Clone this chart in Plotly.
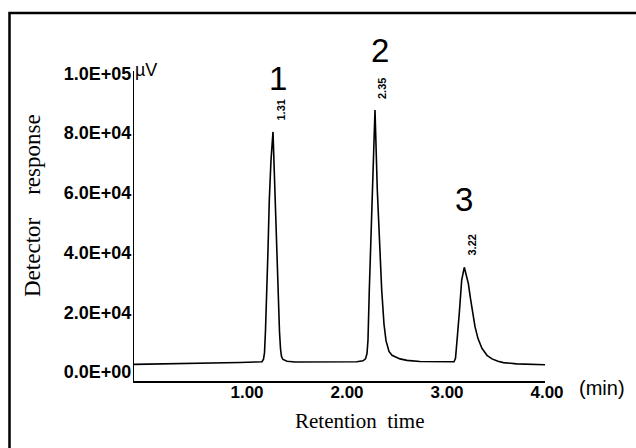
import plotly.graph_objects as go

# Chromatogram trace (time in min, response in µV)
time_min = [-0.08, 0.18, 0.58, 0.98, 1.13, 1.20, 1.215, 1.225, 1.235, 1.247, 1.26, 1.273, 1.29, 1.31,
            1.33, 1.345, 1.363, 1.375, 1.385, 1.395, 1.41, 1.45, 1.53, 1.88, 2.147, 2.21, 2.235, 2.25,
            2.26, 2.273, 2.303, 2.33, 2.353, 2.397, 2.42, 2.44, 2.47, 2.50, 2.58, 2.65, 2.78, 2.88,
            2.98, 3.08, 3.12, 3.135, 3.145, 3.155, 3.173, 3.197, 3.223, 3.245, 3.263, 3.285, 3.307,
            3.33, 3.36, 3.40, 3.45, 3.50, 3.56, 3.613, 3.747, 4.03]
response_uv = [2580, 2680, 2850, 3180, 3350, 3450, 4300, 6500, 14000, 24120, 40870, 57620, 71020, 80400,
               57620, 40870, 24120, 13500, 7800, 5200, 4200, 3600, 3350, 3520, 3450, 3750, 4400, 6200,
               10720, 27470, 60970, 87770, 60970, 27470, 16000, 10500, 6900, 5600, 4400, 3900, 3550, 3450,
               3350, 3300, 3450, 4600, 7500, 12500, 19770, 30820, 35070, 32600, 29710, 24600, 19660,
               15200, 11200, 7900, 5600, 4400, 3600, 3150, 2750, 2450]

x_tick_vals = [1, 2, 3, 4]
x_tick_text = ["1.00", "2.00", "3.00", "4.00"]
y_tick_vals = [0, 20000, 40000, 60000, 80000, 100000]
y_tick_text = ["0.0E+00", "2.0E+04", "4.0E+04", "6.0E+04", "8.0E+04", "1.0E+05"]

peak_numbers = ["1", "2", "3"]
peak_times = ["1.31", "2.35", "3.22"]

# layout geometry (pixels)
W, H = 636, 448
L, R, T, B = 134, 545, 71, 381


def px(x):
    return (x - L) / (R - L)


def py(y):
    return (B - y) / (B - T)


fig = go.Figure()
fig.add_trace(go.Scatter(x=time_min, y=response_uv, mode="lines",
                         line=dict(color="black", width=1.6), hoverinfo="skip"))

fig.update_layout(
    width=W, height=H,
    margin=dict(l=L, r=W - R, t=T, b=H - B, pad=0, autoexpand=False),
    paper_bgcolor="white", plot_bgcolor="white",
    showlegend=False,
    font=dict(family="Liberation Sans, Arial, sans-serif", color="black"),
)
fig.update_xaxes(range=[-0.08, 4.03], tickvals=x_tick_vals, ticktext=x_tick_text,
                 showgrid=False, zeroline=False, showline=True, linecolor="black", linewidth=1.5,
                 ticks="", ticklabelstandoff=-5, ticklabelshift=5,
                 tickfont=dict(size=17, color="black", weight="bold"))
fig.update_yaxes(range=[-3000, 100800], tickvals=y_tick_vals, ticktext=y_tick_text,
                 showgrid=False, zeroline=False, showline=True, linecolor="black", linewidth=1.2,
                 ticks="", ticklabelstandoff=-2,
                 tickfont=dict(size=18, color="black", weight="bold"))


def note(text, x, y, size, angle=0, family=None, weight="normal"):
    f = dict(size=size, color="black", weight=weight)
    if family:
        f["family"] = family
    return dict(text=text, x=px(x), y=py(y), xref="paper", yref="paper",
                xanchor="center", yanchor="middle", showarrow=False,
                textangle=angle, font=f)


serif = "Liberation Serif, Times New Roman, serif"
ann = []
ann.append(note("µV", 146, 70, 18))
ann.append(note("(min)", 602, 388, 20))
ann.append(note("Retention  time", 359, 421, 21, family=serif))
ann.append(note("Detector    response", 33, 206, 23, angle=-90, family=serif))
num_pos = [(277.5, 78), (380, 50), (464, 199)]
for s, (xx, yy) in zip(peak_numbers, num_pos):
    ann.append(note(s, xx, yy, 33))
rt_pos = [(280.5, 110), (382.5, 88.5), (471, 245.5)]
for s, (xx, yy) in zip(peak_times, rt_pos):
    ann.append(note(s, xx, yy, 11, angle=-90, weight="bold"))
fig.update_layout(annotations=ann)

# outer frame (only top and left visible in the picture)
fig.add_shape(type="rect", xref="paper", yref="paper",
              x0=px(9.5), x1=px(660), y0=py(470), y1=py(13),
              line=dict(color="black", width=2.5), fillcolor="rgba(0,0,0,0)", layer="above")

fig.write_html("out.html", config={"displayModeBar": False},
               post_script="document.body.style.margin='0';document.body.style.padding='0';")
